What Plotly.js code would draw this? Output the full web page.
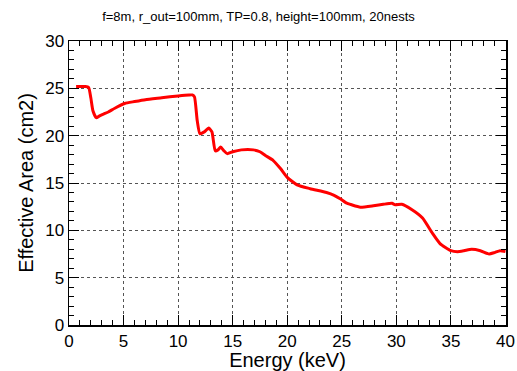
<!DOCTYPE html>
<html>
<head>
<meta charset="utf-8">
<script src="https://cdn.plot.ly/plotly-3.0.1.min.js"></script>
<style>html,body{margin:0;padding:0;background:#fff;}#chart{width:517px;height:371px;}</style>
</head>
<body>
<div id="chart"></div>
<script>
const energy = [0.65, 1.0, 1.5, 1.8, 2.0, 2.2, 2.5, 2.8, 3.2, 3.6, 4.2, 5.1, 6.0, 7.0, 8.5, 10.0, 11.0, 11.3, 11.5, 11.75, 12.0, 12.4, 12.8, 13.1, 13.4, 13.65, 13.9, 14.2, 14.5, 15.0, 15.8, 16.9, 17.5, 18.0, 18.7, 19.4, 20.0, 20.9, 22.1, 23.6, 24.3, 24.9, 25.4, 25.9, 26.7, 27.9, 28.8, 29.6, 29.9, 30.5, 31.4, 32.4, 33.3, 34.0, 35.0, 35.6, 36.2, 36.9, 37.7, 38.5, 39.0, 39.5, 40.0];
const effArea = [25.2, 25.2, 25.2, 25.1, 24.0, 22.6, 21.9, 22.1, 22.3, 22.5, 22.9, 23.4, 23.6, 23.8, 24.0, 24.2, 24.3, 24.3, 24.1, 21.6, 20.2, 20.4, 20.8, 20.4, 18.4, 18.5, 18.8, 18.4, 18.1, 18.3, 18.5, 18.5, 18.3, 17.9, 17.4, 16.5, 15.6, 14.8, 14.4, 14.0, 13.7, 13.3, 12.9, 12.7, 12.45, 12.6, 12.75, 12.85, 12.7, 12.75, 12.2, 11.3, 9.7, 8.6, 7.85, 7.75, 7.85, 8.0, 7.85, 7.5, 7.65, 7.85, 7.75];
const plotTitle = 'f=8m, r_out=100mm, TP=0.8, height=100mm, 20nests';
const xTitle = 'Energy (keV)';
const yTitle = 'Effective Area (cm2)';

const font = 'Liberation Sans, Arial, Helvetica, sans-serif';
const axisCommon = {
  showline: true, linecolor: '#000', linewidth: 1.5, mirror: 'ticks',
  ticks: 'inside', ticklen: 10, tickwidth: 1, tickcolor: '#000',
  showgrid: true, gridcolor: '#555', griddash: 'dot', gridwidth: 1,
  zeroline: false,
  tickfont: {family: font, size: 17, color: '#000'},
  minor: {dtick: 1, ticks: 'inside', ticklen: 5, tickcolor: '#000', showgrid: false}
};
const layout = {
  width: 517, height: 371,
  margin: {l: 69, r: 11, t: 41, b: 46},
  paper_bgcolor: '#fff', plot_bgcolor: '#fff',
  showlegend: false,
  title: {text: plotTitle, font: {family: font, size: 13, color: '#000'}, x: 0.5, xanchor: 'center', y: 0.955, yanchor: 'middle'},
  xaxis: Object.assign({}, axisCommon, {range: [0, 40.05], dtick: 5, tick0: 0,
    title: {text: xTitle, font: {family: font, size: 20, color: '#000'}, standoff: 2}}),
  yaxis: Object.assign({}, axisCommon, {range: [0, 30], dtick: 5, tick0: 0,
    title: {text: yTitle, font: {family: font, size: 20, color: '#000'}, standoff: 6}})
};
Plotly.newPlot('chart', [{
  x: energy, y: effArea, type: 'scatter', mode: 'lines',
  line: {color: '#ff0000', width: 3, shape: 'spline', smoothing: 0.5},
  hoverinfo: 'skip'
}], layout, {staticPlot: true, displayModeBar: false});
</script>
</body>
</html>
